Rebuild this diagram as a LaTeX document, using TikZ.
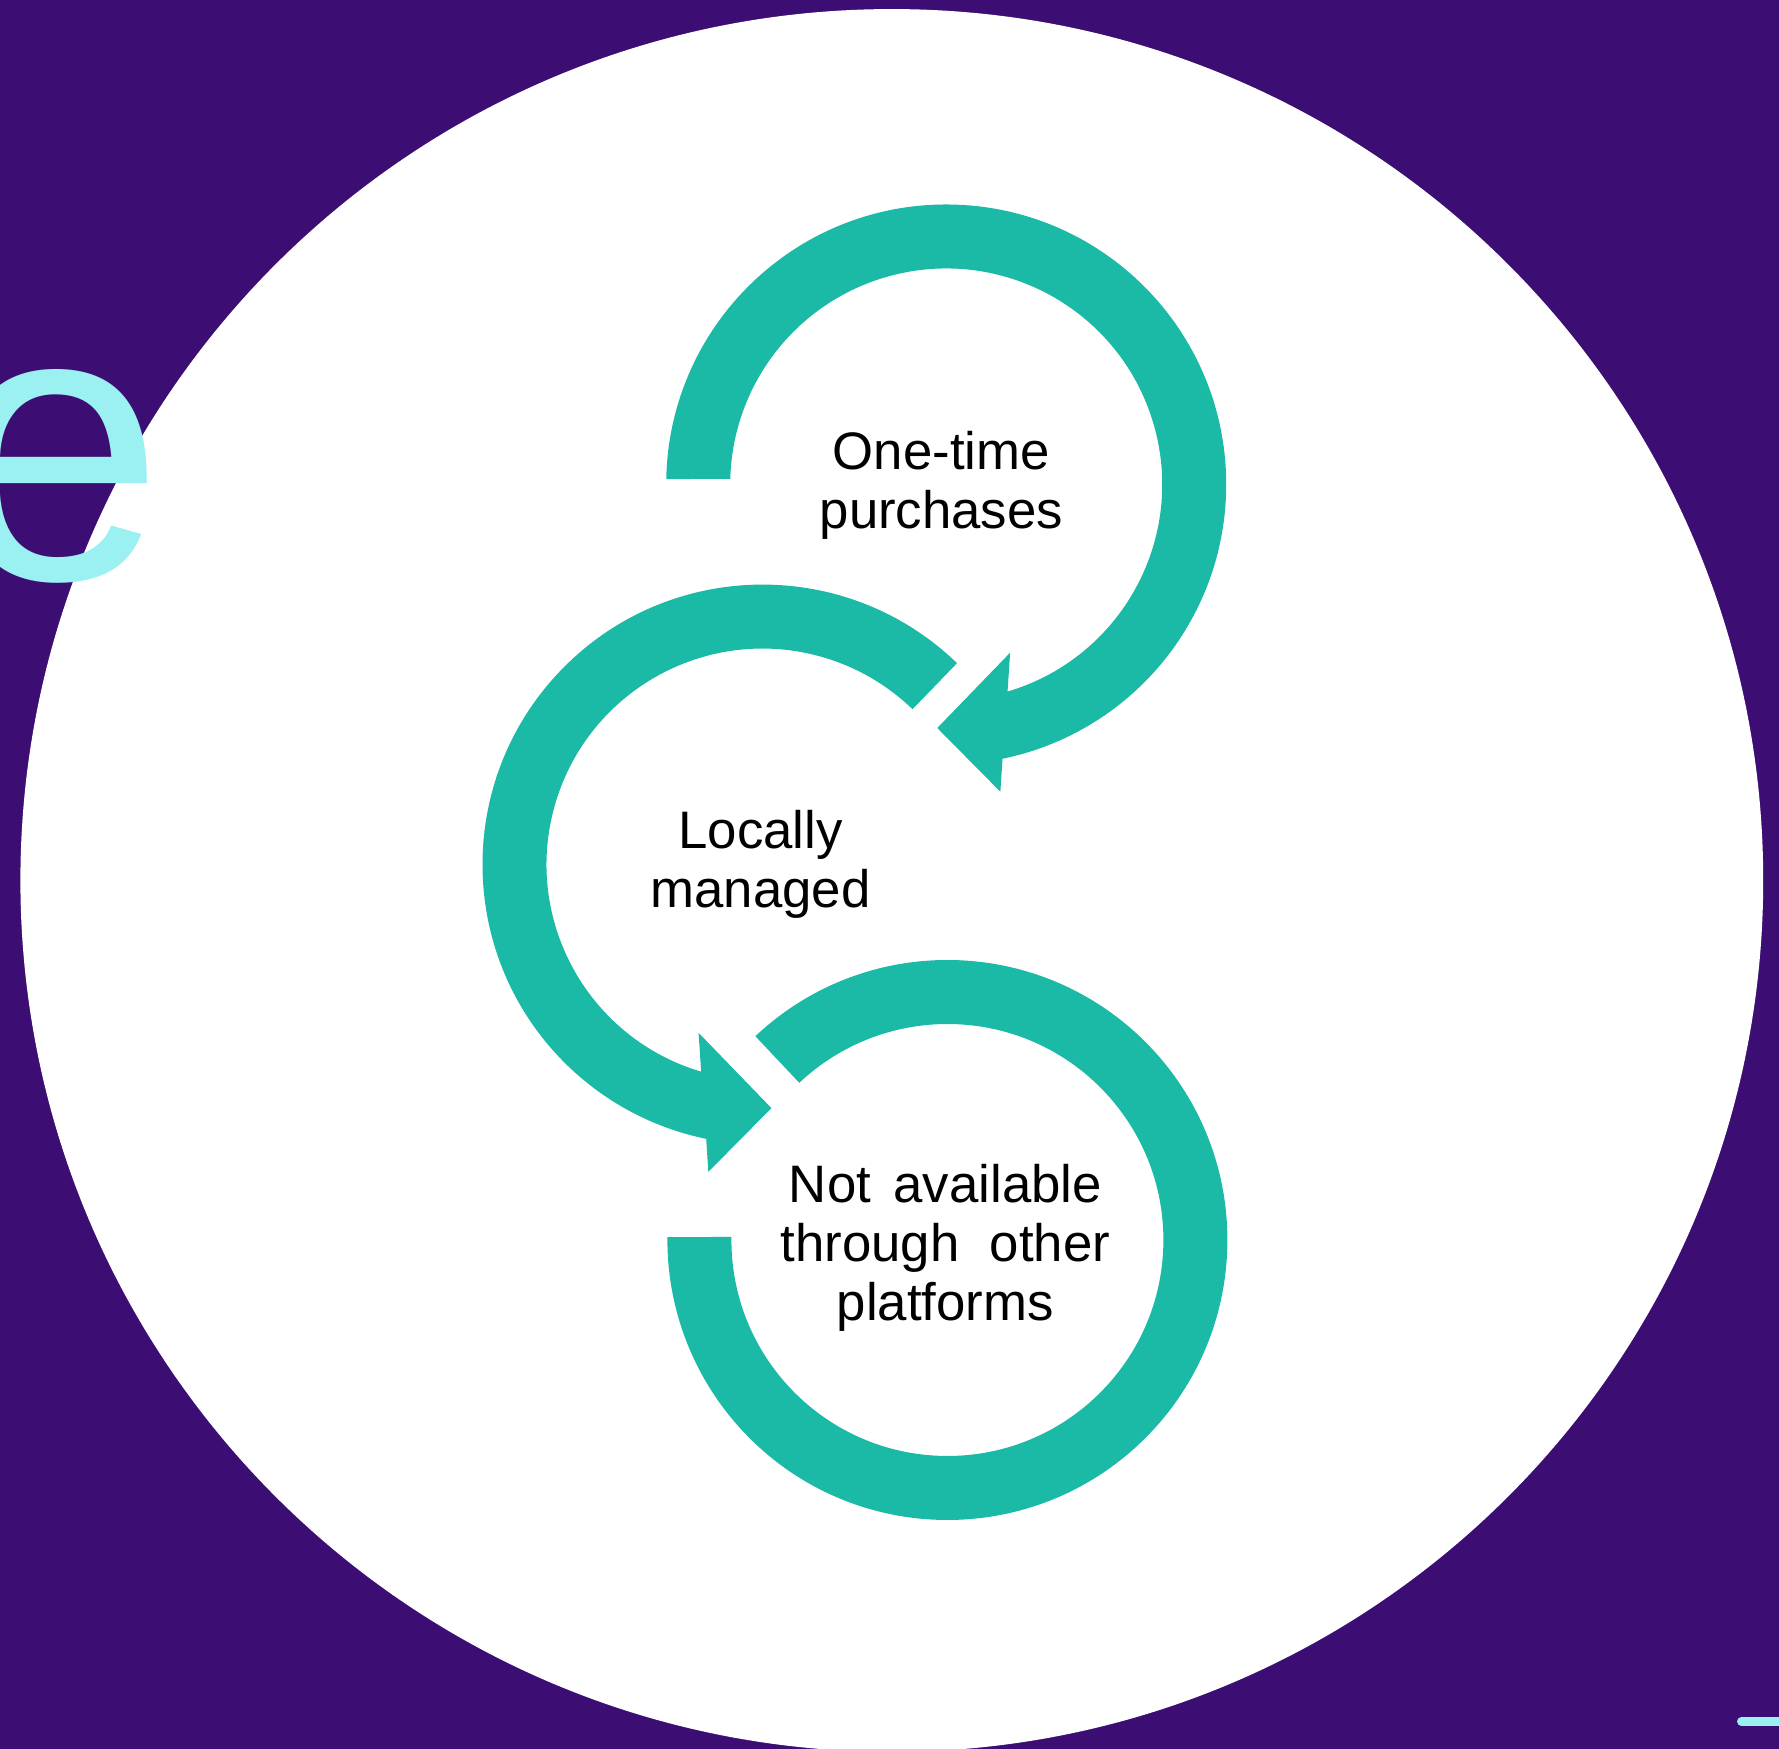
\documentclass[tikz,border=0pt]{standalone}
\usepackage{fontspec}
\setmainfont{Liberation Sans}
\definecolor{bgpurple}{RGB}{60,13,115}
\definecolor{ringteal}{RGB}{26,186,167}
\definecolor{titlecyan}{RGB}{155,240,242}
\begin{document}
\begin{tikzpicture}[x=0.01cm,y=0.01cm,
  ringfill/.style={fill=ringteal},
  ringtext/.style={font=\fontsize{15pt}{16.8pt}\selectfont, align=center, inner sep=0pt, text=black}]
\useasboundingbox (0,0) rectangle (1779,1749);
\clip (0,0) rectangle (1779,1749);
\coordinate (W) at (891.8,868.5);
\coordinate (C1) at (946.2,1264.5);
\coordinate (C2) at (762.5,884.4);
\coordinate (C3) at (947.4,509);
\coordinate (barstart) at (1741.5,27.5);
\coordinate (barend) at (1800,27.5);
\fill[bgpurple] (0,0) rectangle (1779,1749);
\fill[white] (W) circle[radius=871.4];
\node[font=\fontsize{111pt}{120pt}\selectfont, text=titlecyan, anchor=base west, inner sep=0pt] (titlee) at (-53,1169.6) {e};
\draw[titlecyan, line width=0.09cm, line cap=round] (barstart) -- (barend);
\begin{scope}[shift={(C1)}]
\fill[ringfill] (178.9:280) arc[start angle=178.9, end angle=-78.4, radius=280]
  -- (-80:312) -- (-92.1:243.7) -- (-69.2:180) -- (-73.5:216)
  arc[start angle=-73.5, end angle=178.5, radius=216] -- cycle;
\end{scope}
\begin{scope}[shift={(C2)}]
\fill[ringfill] (46:280) arc[start angle=46, end angle=258.4, radius=280]
  -- (260:312) -- (272.1:243.7) -- (249.2:180) -- (253.5:216)
  arc[start angle=253.5, end angle=46, radius=216] -- cycle;
\end{scope}
\begin{scope}[shift={(C3)}]
\fill[ringfill] (133.3:280) arc[start angle=133.3, end angle=-180.6, radius=280]
  -- (-180.8:216) arc[start angle=-180.8, end angle=133.3, radius=216] -- cycle;
\end{scope}
\node[ringtext] (onetime) at (941.4,1263.3) {One-time\\purchases};
\node[ringtext] (locally) at (760.7,884.3) {Locally\\managed};
\node[ringtext] (notavail) at (945.4,501) {Not\hspace{0.15em} available\\through\hspace{0.3em} other\\platforms};
\end{tikzpicture}
\end{document}
